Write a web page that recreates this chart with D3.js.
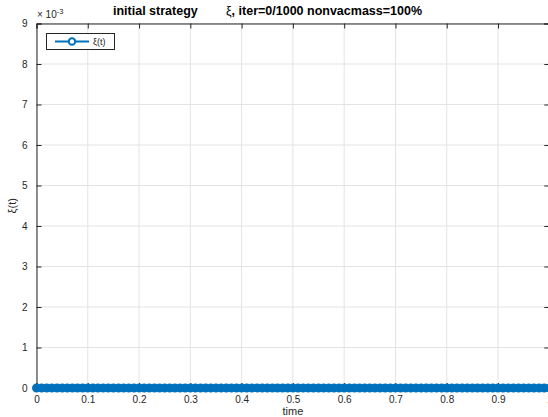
<!DOCTYPE html>
<html>
<head>
<meta charset="utf-8">
<script src="https://cdn.jsdelivr.net/npm/d3@7"></script>
<style>
  html, body { margin: 0; padding: 0; background: #fff; }
  svg { display: block; font-family: "Liberation Sans", Arial, sans-serif; }
</style>
</head>
<body>
<svg id="chart" width="548" height="417"></svg>
<script>
// Sample times of the strategy curve
const time = [
  0.00, 0.01, 0.02, 0.03, 0.04, 0.05, 0.06, 0.07, 0.08, 0.09,
  0.10, 0.11, 0.12, 0.13, 0.14, 0.15, 0.16, 0.17, 0.18, 0.19,
  0.20, 0.21, 0.22, 0.23, 0.24, 0.25, 0.26, 0.27, 0.28, 0.29,
  0.30, 0.31, 0.32, 0.33, 0.34, 0.35, 0.36, 0.37, 0.38, 0.39,
  0.40, 0.41, 0.42, 0.43, 0.44, 0.45, 0.46, 0.47, 0.48, 0.49,
  0.50, 0.51, 0.52, 0.53, 0.54, 0.55, 0.56, 0.57, 0.58, 0.59,
  0.60, 0.61, 0.62, 0.63, 0.64, 0.65, 0.66, 0.67, 0.68, 0.69,
  0.70, 0.71, 0.72, 0.73, 0.74, 0.75, 0.76, 0.77, 0.78, 0.79,
  0.80, 0.81, 0.82, 0.83, 0.84, 0.85, 0.86, 0.87, 0.88, 0.89,
  0.90, 0.91, 0.92, 0.93, 0.94, 0.95, 0.96, 0.97, 0.98, 0.99,
  1.00
];
// Initial strategy xi(t): zero everywhere
const xi = [
  0, 0, 0, 0, 0, 0, 0, 0, 0, 0,
  0, 0, 0, 0, 0, 0, 0, 0, 0, 0,
  0, 0, 0, 0, 0, 0, 0, 0, 0, 0,
  0, 0, 0, 0, 0, 0, 0, 0, 0, 0,
  0, 0, 0, 0, 0, 0, 0, 0, 0, 0,
  0, 0, 0, 0, 0, 0, 0, 0, 0, 0,
  0, 0, 0, 0, 0, 0, 0, 0, 0, 0,
  0, 0, 0, 0, 0, 0, 0, 0, 0, 0,
  0, 0, 0, 0, 0, 0, 0, 0, 0, 0,
  0, 0, 0, 0, 0, 0, 0, 0, 0, 0,
  0
];
const xTicks = [0, 0.1, 0.2, 0.3, 0.4, 0.5, 0.6, 0.7, 0.8, 0.9, 1];
const yTicks = [0, 0.001, 0.002, 0.003, 0.004, 0.005, 0.006, 0.007, 0.008, 0.009];

const svg = d3.select("#chart");
const axisColor = "#262626";
const gridColor = "#e3e3e3";
const blue = "#0072BD";

const pLeft = 36.5, pRight = 549.3, pTop = 23.5, pBottom = 388;
const x = d3.scaleLinear().domain([0, 1]).range([pLeft, pRight]);
const y = d3.scaleLinear().domain([0, 0.009]).range([pBottom, pTop]);

// Grid
const grid = svg.append("g");
grid.selectAll("line.gx").data(xTicks).join("line")
  .attr("x1", d => x(d)).attr("x2", d => x(d))
  .attr("y1", pTop).attr("y2", pBottom)
  .attr("stroke", gridColor).attr("stroke-width", 1);
grid.selectAll("line.gy").data(yTicks).join("line")
  .attr("x1", pLeft).attr("x2", pRight)
  .attr("y1", d => y(d)).attr("y2", d => y(d))
  .attr("stroke", gridColor).attr("stroke-width", 1);

// Axes (ticks point inward)
const xAxis = d3.axisBottom(x).tickValues(xTicks).tickSize(-5).tickPadding(8)
  .tickFormat(d => d3.format("")(d));
const gx = svg.append("g").attr("transform", `translate(0,${pBottom})`).call(xAxis);
const yAxis = d3.axisLeft(y).tickValues(yTicks).tickSize(-5).tickPadding(9)
  .tickFormat(d => Math.round(d * 1000));
const gy = svg.append("g").attr("transform", `translate(${pLeft},0)`).call(yAxis);
const xTop = d3.axisTop(x).tickValues(xTicks).tickSize(-5).tickFormat("");
const gt = svg.append("g").attr("transform", `translate(0,${pTop})`).call(xTop);
const yRight = d3.axisRight(y).tickValues(yTicks).tickSize(-5).tickFormat("");
const gr = svg.append("g").attr("transform", `translate(${pRight},0)`).call(yRight);

[gx, gy, gt, gr].forEach(g => {
  g.select(".domain").attr("stroke", axisColor).attr("stroke-width", 1);
  g.selectAll(".tick line").attr("stroke", axisColor).attr("stroke-width", 1);
  g.selectAll(".tick text").attr("fill", axisColor)
    .style("font-family", "Liberation Sans, Arial, sans-serif").style("font-size", "10px");
});

// Exponent label
const ex = svg.append("text").attr("x", 37).attr("y", 18)
  .attr("fill", axisColor).style("font-size", "10px");
ex.append("tspan").text("\u00d7 10");
ex.append("tspan").attr("dy", -4).style("font-size", "7.5px").text("-3");

// Series
const line = d3.line().x((d, i) => x(time[i])).y(d => y(d));
const series = svg.append("g");
series.append("path").datum(xi).attr("d", line)
  .attr("fill", "none").attr("stroke", blue).attr("stroke-width", 4);
series.selectAll("circle").data(xi).join("circle")
  .attr("cx", (d, i) => x(time[i])).attr("cy", d => y(d)).attr("r", 2.5)
  .attr("fill", "none").attr("stroke", blue).attr("stroke-width", 4);

// Legend
const lg = svg.append("g");
lg.append("rect").attr("x", 46.5).attr("y", 33.5).attr("width", 68).attr("height", 16)
  .attr("fill", "#fff").attr("stroke", axisColor).attr("stroke-width", 1);
lg.append("line").attr("x1", 55).attr("x2", 89).attr("y1", 41.5).attr("y2", 41.5)
  .attr("stroke", blue).attr("stroke-width", 2);
lg.append("circle").attr("cx", 72).attr("cy", 41.5).attr("r", 3.2)
  .attr("fill", "#fff").attr("stroke", blue).attr("stroke-width", 2);
lg.append("text").attr("x", 93).attr("y", 45).attr("fill", axisColor)
  .style("font-size", "9px").text("\u03be(t)");

// Axis labels
svg.append("text").attr("x", (pLeft + pRight) / 2).attr("y", 414.5)
  .attr("text-anchor", "middle").attr("fill", axisColor).style("font-size", "11px").text("time");
svg.append("text").attr("transform", `translate(16,${(pTop + pBottom) / 2}) rotate(-90)`)
  .attr("text-anchor", "middle").attr("fill", axisColor).style("font-size", "11px").text("\u03be(t)");

// Title
const title = svg.append("text").attr("x", 113).attr("y", 15)
  .attr("fill", "#000").style("font-size", "12.5px").style("font-weight", "bold");
title.append("tspan").text("initial strategy");
title.append("tspan").attr("x", 226).style("font-weight", "normal").text("\u03be");
title.append("tspan").text(", iter=0/1000 nonvacmass=100%");
</script>
</body>
</html>
